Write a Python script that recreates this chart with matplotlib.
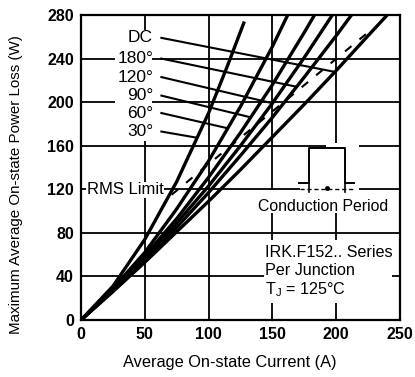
import numpy as np
import matplotlib
matplotlib.use("Agg")
import matplotlib.pyplot as plt
from matplotlib.patches import Rectangle

plt.rcParams['font.family'] = ['Liberation Sans', 'DejaVu Sans']

# Average on-state current (A) and power loss (W) per conduction angle
i_dc = [0, 25, 50, 75, 100, 125, 150, 175, 200, 225, 240]
p_dc = [0, 26, 53, 81, 109, 138, 168, 198, 229, 261, 280]

i_180 = [0, 25, 50, 75, 100, 125, 150, 175, 200, 212]
p_180 = [0, 27, 55, 85, 117, 151, 186, 223, 261, 280]

i_120 = [0, 25, 50, 75, 100, 125, 150, 175, 197]
p_120 = [0, 27, 57, 89, 123, 160, 199, 241, 280]

i_90 = [0, 25, 50, 75, 100, 125, 150, 175, 183]
p_90 = [0, 28, 59, 93, 131, 172, 216, 264, 280]

i_60 = [0, 25, 50, 75, 100, 125, 150, 162]
p_60 = [0, 29, 62, 102, 146, 196, 251, 280]

i_30 = [0, 25, 50, 75, 100, 115, 128]
p_30 = [0, 31, 74, 127, 190, 234, 274]

# RMS current limit line
i_rms = [71, 227]
p_rms = [115, 266]

curve_labels = ['DC', '180°', '120°', '90°', '60°', '30°']
label_y = [259, 240, 223, 206, 190, 173]        # label heights (W)
leader_i = [199, 169, 150, 133, 115, 91]        # where each leader meets its curve (A)

x_ticks = [0, 50, 100, 150, 200, 250]
y_ticks = [0, 40, 80, 120, 160, 200, 240, 280]

curves = [(i_dc, p_dc), (i_180, p_180), (i_120, p_120),
          (i_90, p_90), (i_60, p_60), (i_30, p_30)]

fig = plt.figure(figsize=(4.15, 3.77), dpi=100)
ax = fig.add_axes([81 / 415, 57 / 377, 319 / 415, 305 / 377])
ax.set_xlim(0, 250)
ax.set_ylim(0, 280)
ax.set_xticks(x_ticks)
ax.set_yticks(y_ticks)
ax.tick_params(length=0, pad=5, labelsize=11.5)
for t in ax.get_xticklabels() + ax.get_yticklabels():
    t.set_fontweight('bold')
ax.grid(True, color='black', lw=1.3)
ax.set_axisbelow(True)
for s in ax.spines.values():
    s.set_linewidth(1.6)

# blank areas behind the annotations
for (x0, y0, w, h) in [(27, 164, 29, 102), (172, 118, 46, 40.5), (192, 158.5, 26, 4),
                       (137, 98, 106, 21.2), (143.5, 16, 100.5, 57)]:
    ax.add_patch(Rectangle((x0, y0), w, h, facecolor='white', edgecolor='none', zorder=1.5))

for (ci, cp) in curves:
    ax.plot(ci, cp, color='black', lw=2.4, zorder=3, solid_capstyle='butt')

ax.plot(i_rms, p_rms, color='black', lw=1.5, ls=(0, (4, 5)), zorder=3)

# curve labels with leader lines
for lab, ly, li, (ci, cp) in zip(curve_labels, label_y, leader_i, curves):
    ax.text(56.5, ly, lab, ha='right', va='center', fontsize=12.5, zorder=4)
    ax.plot([63, li], [ly, np.interp(li, ci, cp)], color='black', lw=1.5, zorder=3)

ax.text(34.5, 119.5, 'RMS Limit', ha='center', va='center', fontsize=12,
        bbox=dict(facecolor='white', edgecolor='none', pad=0.5), zorder=4)

# conduction period symbol
ax.plot([171, 178.5, 178.5, 207, 207, 214], [125.5, 125.5, 157.5, 157.5, 125.5, 125.5],
        color='black', lw=1.4, zorder=3)
ax.plot([178.5, 178.5], [125.5, 117.5], color='black', lw=1.2, zorder=3)
ax.plot([207, 207], [125.5, 117.5], color='black', lw=1.2, zorder=3)
ax.plot([172, 214], [120.5, 120.5], color='black', lw=1.0, ls=(0, (3, 2)), zorder=3)
ax.plot([192.5], [121.5], marker='o', ms=2.5, color='black', zorder=3)
ax.text(189.5, 104.6, 'Conduction Period', ha='center', va='center', fontsize=11.4, zorder=4)

ax.text(144.5, 62, 'IRK.F152.. Series', ha='left', va='center', fontsize=11.6, zorder=4)
ax.text(144.5, 45, 'Per Junction', ha='left', va='center', fontsize=11.6, zorder=4)
ax.text(144.5, 27.5, r'T$_\mathregular{J}$ = 125°C', ha='left', va='center', fontsize=11.6,
        zorder=4)

fig.text(230 / 415, 1 - 363 / 377, 'Average On-state Current (A)', ha='center', va='center',
         fontsize=11.8)
fig.text(16 / 415, 1 - 185 / 377, 'Maximum Average On-state Power Loss (W)', ha='center',
         va='center', rotation=90, fontsize=10.9)

fig.savefig('out.png', dpi=100)
